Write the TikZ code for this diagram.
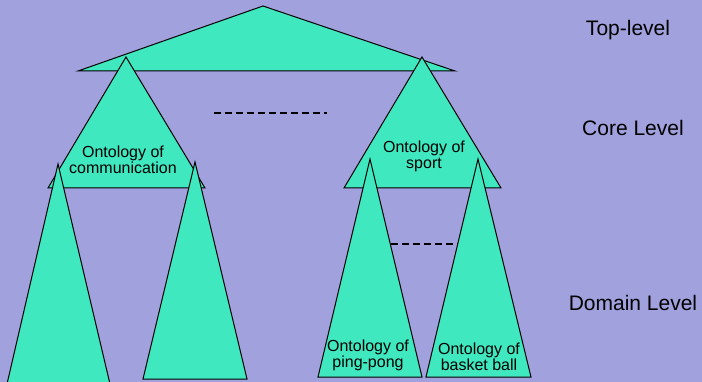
\documentclass[tikz,border=0pt]{standalone}
\usepackage{fontspec}
\setmainfont{Liberation Sans}
\usetikzlibrary{positioning}
\definecolor{sky}{RGB}{161,161,222}
\definecolor{mint}{RGB}{64,232,192}

\begin{document}
\begin{tikzpicture}[x=1pt,y=-1pt,
    onto/.style={draw=black,fill=mint,line width=1pt},
    lab/.style={align=center,font=\fontsize{16}{16}\selectfont,inner sep=0pt},
    lvl/.style={font=\fontsize{21}{21}\selectfont,inner sep=0pt},
    gap/.style={line width=1.3pt,dash pattern=on 7pt off 4pt}]
   \useasboundingbox[fill=sky] (0,0) rectangle (702,382);
   % top and core ontologies
   \draw[onto] (263,6) -- (455,71) -- (78,71) -- cycle;
   \draw[onto] (126,57) -- (205,188) -- (48,188) -- cycle;
   \draw[onto] (422,57) -- (501,188) -- (344,188) -- cycle;
   \draw[gap] (214,113) -- (327,113);
   \draw[gap] (391,244) -- (458,244);
   % domain ontologies
   \draw[onto] (58,164) -- (110,384) -- (7,384) -- cycle;
   \draw[onto] (195,162) -- (247,379) -- (143,379) -- cycle;
   \draw[onto] (370,159) -- (422,377) -- (318,377) -- cycle;
   \draw[onto] (478,159) -- (531,377) -- (426,377) -- cycle;
   \node[lab] (comm)  at (123,160) {Ontology of\\communication};
   \node[lab] (sport) at (424,156) {Ontology of\\sport};
   \node[lab] (ping)  at (368,355) {Ontology of\\ping-pong};
   \node[lab] (bask)  at (479,357) {Ontology of\\basket ball};
   \node[lvl] (top)    at (628,30)  {Top-level};
   \node[lvl] (core)   at (633,128) {Core Level};
   \node[lvl] (domain) at (633,303) {Domain Level};
\end{tikzpicture}
\end{document}
